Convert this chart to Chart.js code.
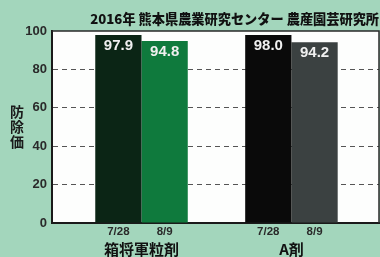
<!DOCTYPE html>
<html>
<head>
<meta charset="utf-8">
<script src="https://cdn.jsdelivr.net/npm/chart.js@4/dist/chart.umd.min.js"></script>
<style>
    html, body { margin: 0; padding: 0; background: #a3d6bc; }
</style>
</head>
<body>
<canvas id="graph" width="380" height="257"></canvas>
<script>
const titleText = "2016年 熊本県農業研究センター 農産園芸研究所"
const yTitle = ["防", "除", "価"]
const groups = ["箱将軍粒剤", "A剤"]
const dates = ["7/28", "8/9"]
const firstSurvey = [97.9, 98.0]
const secondSurvey = [94.8, 94.2]
const firstColors = ["#0b2515", "#0a0a0a"]
const secondColors = ["#0f7a3d", "#3b4141"]
const yTicks = [0, 20, 40, 60, 80, 100]

const cjk = "'Noto Sans CJK JP', sans-serif"
const latin = "'Liberation Sans', Arial, sans-serif"

const background = {
    id: "background",
    beforeDraw: (chart) => {
        const { ctx, chartArea: a } = chart
        ctx.save()
        ctx.fillStyle = "#a3d6bc"
        ctx.fillRect(0, 0, chart.width, chart.height)
        ctx.fillStyle = "#fdfefd"
        ctx.fillRect(a.left, a.top, a.right - a.left, a.bottom - a.top)
        ctx.restore()
    },
    afterDraw: (chart) => {
        const { ctx, chartArea: a } = chart
        ctx.save()
        ctx.strokeStyle = "#2a2a2a"
        ctx.lineWidth = 1.5
        ctx.beginPath()
        ctx.moveTo(a.left, a.top)
        ctx.lineTo(a.right, a.top)
        ctx.lineTo(a.right, a.bottom)
        ctx.stroke()
        ctx.restore()
    },
}

const barLabels = {
    id: "barLabels",
    afterDatasetsDraw: (chart) => {
        const { ctx, chartArea } = chart
        ctx.save()
        ctx.textAlign = "center"
        ctx.textBaseline = "middle"
        chart.data.datasets.forEach((dataset, i) => {
            const meta = chart.getDatasetMeta(i)
            meta.data.forEach((bar, j) => {
                ctx.fillStyle = "#f0f0f0"
                ctx.font = "bold 15px " + latin
                ctx.fillText(dataset.data[j].y.toFixed(1), bar.x, bar.y + 11)
                ctx.fillStyle = "#2a2a2a"
                ctx.font = "bold 11.5px " + latin
                ctx.fillText(dataset.label, bar.x, chartArea.bottom + 9)
            })
        })
        // y axis title, one character per line
        ctx.fillStyle = "#1a1a1a"
        ctx.font = "bold 14px " + cjk
        yTitle.forEach((ch, i) => {
            ctx.fillText(ch, 17, 112 + i * 15)
        })
        ctx.restore()
    },
}

const toPoints = (values) => values.map((v, i) => ({ x: i + 1, y: v }))

const config = {
    type: "bar",
    data: {
        datasets: [
            {
                label: dates[0],
                data: toPoints(firstSurvey),
                backgroundColor: firstColors,
            },
            {
                label: dates[1],
                data: toPoints(secondSurvey),
                backgroundColor: secondColors,
            },
        ],
    },
    options: {
        responsive: false,
        animation: false,
        categoryPercentage: 0.617,
        barPercentage: 1,
        layout: {
            padding: { top: 0, right: 1, bottom: 0, left: 0 },
        },
        plugins: {
            legend: { display: false },
            tooltip: { enabled: false },
            title: {
                display: true,
                text: titleText,
                align: "end",
                color: "#111",
                font: { family: cjk, size: 13.2, weight: "900" },
                padding: { top: 10.7, bottom: 4.5 },
            },
        },
        scales: {
            x: {
                type: "linear",
                min: 0.403,
                max: 2.584,
                offset: false,
                grid: { display: false, drawTicks: false },
                border: { display: true, width: 2, color: "#1a1a1a" },
                ticks: {
                    padding: 17,
                    maxRotation: 0,
                    color: "#111",
                    font: { family: cjk, size: 15, weight: "bold" },
                    callback: (value) => groups[value - 1],
                },
                afterBuildTicks: (scale) => {
                    scale.ticks = groups.map((g, i) => ({ value: i + 1 }))
                },
                afterFit: (scale) => {
                    scale.height = 34
                },
            },
            y: {
                min: 0,
                max: 100,
                grid: {
                    drawTicks: false,
                    lineWidth: 1,
                    color: (ctx) => {
                        if (ctx.tick.value === 0 || ctx.tick.value === 100) return "rgba(0,0,0,0)"
                        return "#555"
                    },
                },
                border: { display: true, width: 2, color: "#1a1a1a", dash: [5, 4] },
                ticks: {
                    padding: 5,
                    color: "#2a2a2a",
                    font: { family: latin, size: 13, weight: "bold" },
                },
                afterBuildTicks: (scale) => {
                    scale.ticks = yTicks.map((v) => ({ value: v }))
                },
                afterFit: (scale) => {
                    scale.width = 52
                },
            },
        },
    },
    plugins: [background, barLabels],
}

const chart = new Chart(document.getElementById("graph"), config)
</script>
</body>
</html>
